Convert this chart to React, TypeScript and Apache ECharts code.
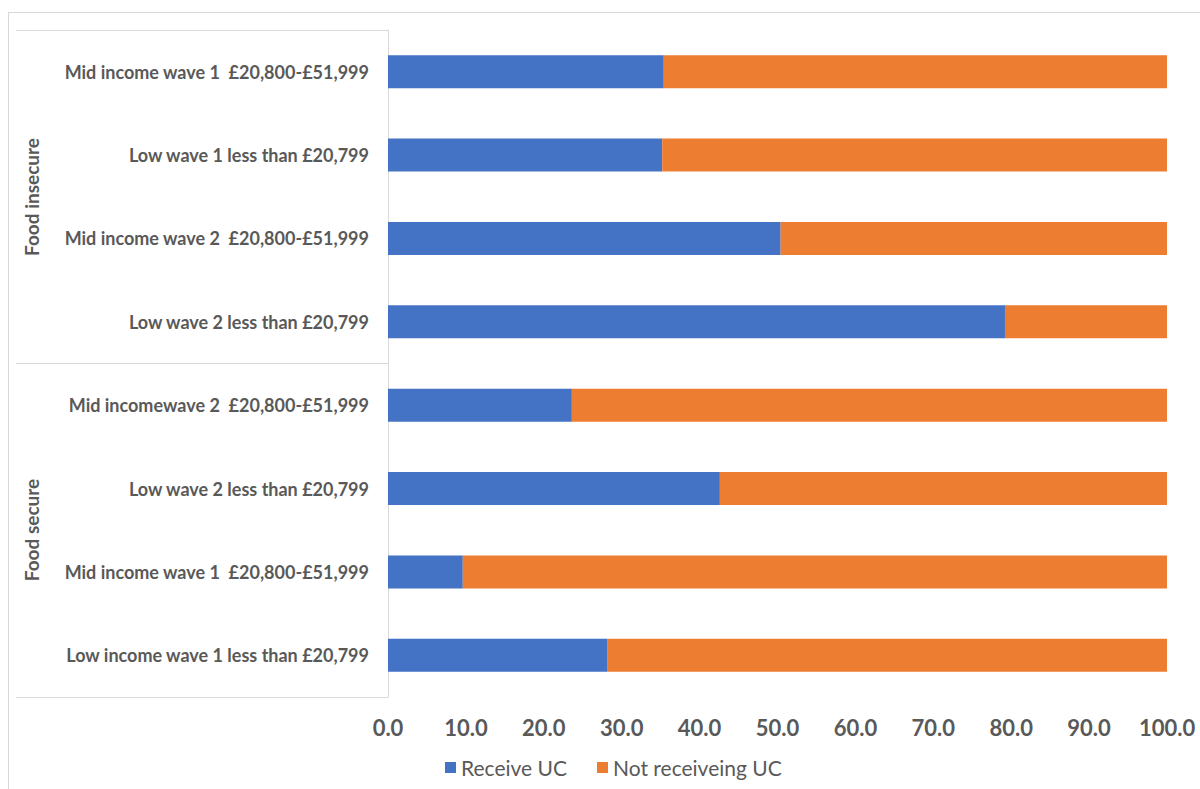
import React, { useEffect, useRef } from "react";
import * as echarts from "echarts";

const categories = [
  "Mid income wave 1  £20,800-£51,999",
  "Low wave 1 less than £20,799",
  "Mid income wave 2  £20,800-£51,999",
  "Low wave 2 less than £20,799",
  "Mid incomewave 2  £20,800-£51,999",
  "Low wave 2 less than £20,799",
  "Mid income wave 1  £20,800-£51,999",
  "Low income wave 1 less than £20,799",
];
const groups = ["Food insecure", "Food secure"];
const receiveUC = [35.4, 35.2, 50.4, 79.2, 23.6, 42.6, 9.6, 28.2];
const notReceiveUC = receiveUC.map((v) => +(100 - v).toFixed(1));
const seriesNames = ["Receive UC", "Not receiveing UC"];

const FONT = "Lato, 'Open Sans', sans-serif";
const GRAY = "#595959";
const LINE = "#d9d9d9";

export default function App() {
  const ref = useRef<HTMLDivElement>(null);
  useEffect(() => {
    if (!ref.current) return;
    const chart = echarts.init(ref.current, null, { renderer: "svg" });
    chart.setOption({
      animation: false,
      backgroundColor: "#ffffff",
      grid: { left: 388, right: 33, top: 30, bottom: 92, containLabel: false },
      xAxis: {
        type: "value",
        min: 0,
        max: 100,
        interval: 10,
        axisLine: { show: false },
        axisTick: { show: false },
        splitLine: { show: false },
        axisLabel: {
          formatter: (v: number) => v.toFixed(1),
          fontFamily: FONT,
          fontWeight: "bold",
          fontSize: 22,
          color: GRAY,
          margin: 19,
        },
      },
      yAxis: {
        type: "category",
        inverse: true,
        data: categories,
        axisLine: { show: true, lineStyle: { color: LINE, width: 1 } },
        axisTick: { show: false },
        axisLabel: {
          fontFamily: FONT,
          fontWeight: "bold",
          fontSize: 18,
          color: GRAY,
          margin: 19,
        },
      },
      legend: {
        left: 440,
        top: 752,
        icon: "rect",
        itemWidth: 11,
        itemHeight: 11,
        itemGap: 30,
        textStyle: { fontFamily: FONT, fontSize: 21, color: GRAY },
        data: seriesNames,
      },
      series: [
        {
          name: seriesNames[0],
          type: "bar",
          stack: "total",
          barWidth: 33,
          itemStyle: { color: "#4472C4" },
          data: receiveUC,
        },
        {
          name: seriesNames[1],
          type: "bar",
          stack: "total",
          barWidth: 33,
          itemStyle: { color: "#ED7D31" },
          data: notReceiveUC,
        },
      ],
      graphic: [
        { type: "line", shape: { x1: 8, y1: 12.5, x2: 1200, y2: 12.5 }, style: { stroke: LINE, lineWidth: 1 } },
        { type: "line", shape: { x1: 8.5, y1: 12, x2: 8.5, y2: 789 }, style: { stroke: LINE, lineWidth: 1 } },
        { type: "line", shape: { x1: 16, y1: 30.5, x2: 388, y2: 30.5 }, style: { stroke: LINE, lineWidth: 1 } },
        { type: "line", shape: { x1: 16, y1: 363.5, x2: 388, y2: 363.5 }, style: { stroke: LINE, lineWidth: 1 } },
        { type: "line", shape: { x1: 16, y1: 697.5, x2: 388, y2: 697.5 }, style: { stroke: LINE, lineWidth: 1 } },
        {
          type: "text",
          x: 31,
          y: 197,
          rotation: Math.PI / 2,
          style: {
            text: groups[0],
            fontFamily: FONT,
            fontWeight: "bold",
            fontSize: 19,
            fill: GRAY,
            align: "center",
            verticalAlign: "middle",
          },
        },
        {
          type: "text",
          x: 31,
          y: 530,
          rotation: Math.PI / 2,
          style: {
            text: groups[1],
            fontFamily: FONT,
            fontWeight: "bold",
            fontSize: 19,
            fill: GRAY,
            align: "center",
            verticalAlign: "middle",
          },
        },
      ],
    });
    return () => chart.dispose();
  }, []);
  return (
    <div
      ref={ref}
      style={{ position: "fixed", left: 0, top: 0, width: 1200, height: 789, background: "#fff" }}
    />
  );
}
